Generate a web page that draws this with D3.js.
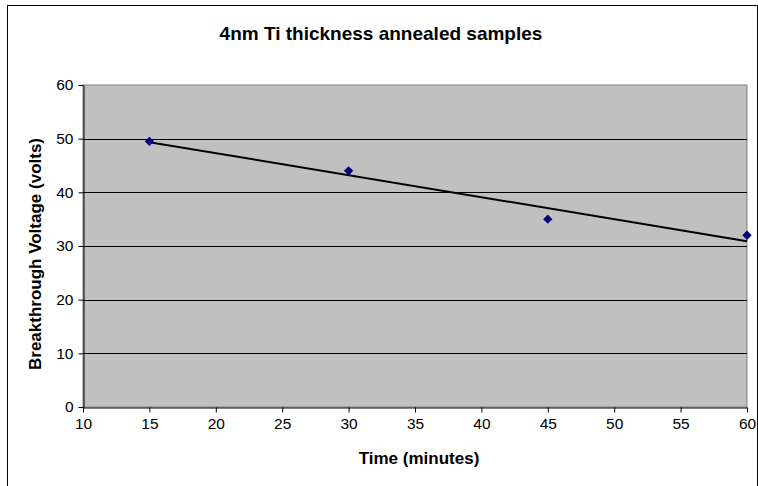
<!DOCTYPE html>
<html>
<head>
<meta charset="utf-8">
<script src="https://cdn.jsdelivr.net/npm/d3@7"></script>
<style>
  body { margin: 0; background: #fff; }
  svg { display: block; font-family: "Liberation Sans", Arial, sans-serif; }
</style>
</head>
<body>
<div id="chart"></div>
<script>
const WIDTH = 758;
const HEIGHT = 486;

const times = [15, 30, 45, 60];
const voltages = [49.5, 44, 35, 32];
const xTicks = [10, 15, 20, 25, 30, 35, 40, 45, 50, 55, 60];
const yTicks = [0, 10, 20, 30, 40, 50, 60];

const margin = {top: 85, right: 11, bottom: 79, left: 83};

let svg = d3.select('#chart').append('svg')
  .attr('width', WIDTH)
  .attr('height', HEIGHT);

// outer chart frame
svg.append('rect')
  .attr('x', 7.5).attr('y', 5.5)
  .attr('width', WIDTH - 8).attr('height', HEIGHT)
  .attr('fill', '#fff').attr('stroke', '#000');

let x = d3.scaleLinear().domain([10, 60]).range([margin.left, WIDTH - margin.right]);
let y = d3.scaleLinear().domain([0, 60]).range([HEIGHT - margin.bottom, margin.top]);

// plot area
svg.append('rect')
  .attr('x', x(10)).attr('y', y(60))
  .attr('width', x(60) - x(10)).attr('height', y(0) - y(60))
  .attr('fill', '#c0c0c0').attr('stroke', '#808080');

// gridlines
svg.append('g').selectAll('line')
  .data(yTicks.filter(d => d > 0 && d < 60))
  .join('line')
  .attr('x1', x(10)).attr('x2', x(60))
  .attr('y1', d => Math.round(y(d)) + 0.5).attr('y2', d => Math.round(y(d)) + 0.5)
  .attr('stroke', '#000').attr('stroke-width', 1);

// axes
let xAxis = d3.axisBottom(x).tickValues(xTicks).tickSize(5).tickSizeOuter(0).tickPadding(5);
let yAxis = d3.axisLeft(y).tickValues(yTicks).tickSize(5).tickSizeOuter(0).tickPadding(5);

let gx = svg.append('g').attr('transform', `translate(0,${Math.round(y(0)) + 0.5})`).call(xAxis);
let gy = svg.append('g').attr('transform', `translate(${Math.round(x(10)) + 0.5},0)`).call(yAxis);
[gx, gy].forEach(g => {
  g.selectAll('.domain').attr('stroke', '#000');
  g.selectAll('.tick line').attr('stroke', '#000');
  g.selectAll('.tick text').attr('fill', '#000')
    .style('font-size', '15.5px')
    .style('font-family', '"Liberation Sans", Arial, sans-serif');
});

// linear trend line (least squares fit of the data)
let mx = d3.mean(times), my = d3.mean(voltages);
let slope = d3.sum(times, (t, i) => (t - mx) * (voltages[i] - my)) / d3.sum(times, t => (t - mx) ** 2);
let icpt = my - slope * mx;
let tMin = d3.min(times), tMax = d3.max(times);
svg.append('line')
  .attr('x1', x(tMin)).attr('y1', y(icpt + slope * tMin))
  .attr('x2', x(tMax)).attr('y2', y(icpt + slope * tMax))
  .attr('stroke', '#000').attr('stroke-width', 2);

// markers
svg.append('g').selectAll('path')
  .data(times.map((t, i) => [t, voltages[i]]))
  .join('path')
  .attr('d', d3.symbol(d3.symbolDiamond2, 55))
  .attr('transform', d => `translate(${x(d[0])},${y(d[1])})`)
  .attr('fill', '#000080');

// titles (chart title centred on the whole chart area)
svg.append('text')
  .attr('x', 381).attr('y', 40)
  .attr('text-anchor', 'middle')
  .style('font-size', '19px').style('font-weight', 'bold')
  .text('4nm Ti thickness annealed samples');

svg.append('text')
  .attr('x', (x(10) + x(60)) / 2 + 4).attr('y', 464)
  .attr('text-anchor', 'middle')
  .style('font-size', '17px').style('font-weight', 'bold')
  .text('Time (minutes)');

svg.append('text')
  .attr('transform', `translate(41,${(y(0) + y(60)) / 2 + 8}) rotate(-90)`)
  .attr('text-anchor', 'middle')
  .style('font-size', '17px').style('font-weight', 'bold')
  .text('Breakthrough Voltage (volts)');
</script>
</body>
</html>
